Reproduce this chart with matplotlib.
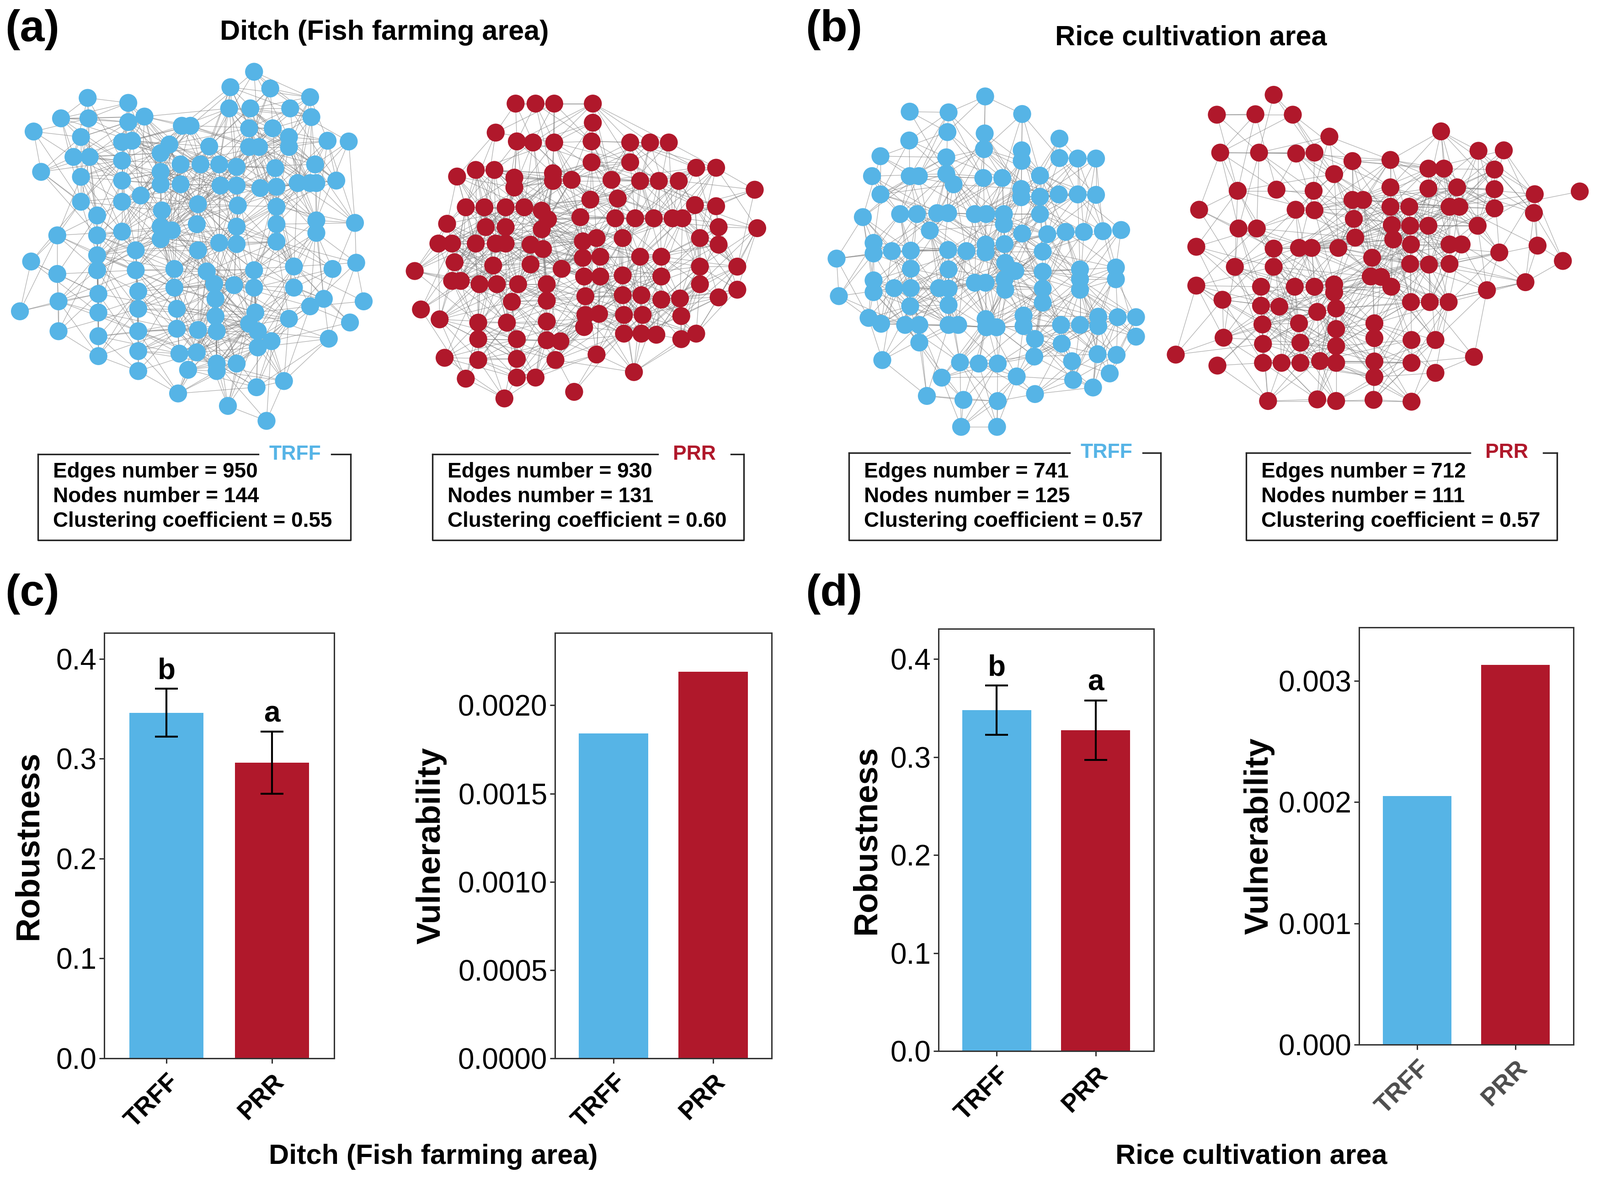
import numpy as np
import matplotlib
matplotlib.use("Agg")
import matplotlib.pyplot as plt
from matplotlib.collections import LineCollection

plt.rcParams['font.family'] = ['Liberation Sans', 'DejaVu Sans']

BLUE = '#56B4E6'
RED = '#B0182B'

# node positions (zoomed-crop units, 0..1560, y down)
trff_ditch_nodes = [
    (1020, 68), (925, 130), (1085, 135), (1245, 170), (352, 173), (515, 193), (920, 215), (1005, 215),
    (1165, 215), (245, 255), (355, 255), (515, 270), (580, 248), (1250, 250), (730, 285), (765, 285),
    (135, 308), (1000, 295), (1095, 295), (325, 330), (490, 350), (530, 345), (1160, 330), (1315, 345),
    (1400, 348), (840, 368), (680, 360), (1000, 370), (1040, 370), (1160, 370), (295, 410), (360, 410),
    (490, 425), (645, 395), (725, 440), (805, 440), (880, 440), (950, 450), (1105, 455), (1265, 440),
    (165, 470), (325, 490), (645, 470), (1245, 515), (1350, 505), (490, 505), (725, 520), (885, 525),
    (950, 525), (1045, 535), (1110, 530), (1195, 515), (1270, 515), (565, 565), (645, 520), (325, 590),
    (490, 590), (795, 600), (955, 605), (1110, 610), (650, 625), (390, 645), (1270, 665), (1425, 675),
    (645, 690), (690, 705), (790, 680), (950, 690), (1110, 680), (230, 725), (390, 725), (490, 710),
    (645, 740), (1110, 750), (1270, 715), (880, 755), (950, 760), (795, 785), (545, 785), (390, 805),
    (125, 830), (1335, 860), (1430, 835), (1180, 850), (700, 860), (830, 870), (1020, 865), (390, 865),
    (545, 865), (230, 880), (860, 920), (940, 925), (1020, 935), (1180, 935), (700, 935), (555, 950),
    (395, 960), (865, 980), (1300, 980), (1460, 990), (235, 990), (80, 1030), (710, 1020), (555, 1020),
    (395, 1035), (1025, 1035), (1245, 1010), (865, 1050), (1160, 1060), (1000, 1080), (1405, 1075),
    (710, 1100), (795, 1105), (870, 1110), (235, 1110), (555, 1110), (395, 1130), (1035, 1110),
    (1320, 1140), (1090, 1150), (1035, 1175), (720, 1200), (790, 1195), (555, 1190), (395, 1210),
    (870, 1240), (950, 1240), (755, 1265), (870, 1270), (555, 1270), (1140, 1310), (1030, 1335),
    (715, 1360), (915, 1410), (1070, 1470),
]
prr_ditch_nodes = [
    (510, 118), (590, 118), (665, 118), (820, 118), (820, 205), (430, 250), (515, 290), (580, 295),
    (665, 295), (815, 290), (970, 295), (1050, 295), (1125, 295), (815, 385), (970, 385), (1235, 410),
    (1315, 410), (275, 450), (350, 420), (425, 420), (505, 455), (505, 500), (660, 435), (660, 470),
    (735, 465), (895, 465), (1010, 470), (1085, 470), (1165, 470), (1470, 510), (810, 555), (920, 550),
    (1230, 580), (1315, 585), (310, 590), (385, 590), (470, 590), (545, 590), (615, 605), (640, 645),
    (235, 665), (390, 680), (470, 680), (615, 690), (770, 635), (910, 640), (990, 640), (1065, 640),
    (1140, 640), (1180, 640), (1325, 680), (1480, 685), (200, 755), (255, 755), (350, 755), (430, 755),
    (470, 755), (570, 760), (620, 780), (780, 745), (835, 730), (940, 730), (1250, 730), (1325, 760),
    (265, 840), (420, 855), (570, 850), (695, 870), (850, 815), (780, 820), (1010, 815), (1095, 815),
    (1250, 860), (1400, 860), (105, 880), (255, 925), (290, 925), (365, 940), (435, 940), (520, 940),
    (635, 940), (785, 905), (850, 905), (940, 900), (1095, 905), (1250, 940), (1400, 965), (495, 1020),
    (635, 1015), (790, 995), (940, 990), (1015, 990), (1095, 1010), (1170, 1005), (1325, 1000),
    (130, 1055), (205, 1100), (360, 1115), (475, 1115), (635, 1110), (790, 1080), (845, 1075),
    (945, 1080), (1020, 1080), (1175, 1085), (785, 1135), (945, 1165), (1015, 1165), (1075, 1170),
    (1175, 1190), (1235, 1165), (360, 1190), (515, 1190), (635, 1195), (690, 1200), (835, 1260),
    (225, 1275), (360, 1285), (515, 1280), (670, 1285), (985, 1340), (310, 1370), (515, 1365),
    (590, 1365), (745, 1430), (465, 1460),
]
trff_rice_nodes = [
    (750, 80), (420, 145), (590, 148), (912, 155), (585, 232), (748, 238), (418, 268), (1075, 260),
    (745, 305), (292, 335), (580, 340), (910, 310), (910, 355), (1075, 343), (1155, 345), (1235, 345),
    (255, 420), (420, 420), (460, 420), (580, 410), (612, 455), (742, 428), (825, 428), (990, 418),
    (292, 498), (908, 475), (908, 510), (990, 508), (1072, 498), (1155, 498), (1235, 500), (215, 595),
    (378, 582), (452, 582), (540, 578), (588, 578), (705, 582), (755, 582), (832, 582), (832, 625),
    (990, 582), (508, 652), (912, 665), (1022, 668), (1102, 658), (1182, 658), (1265, 655), (1345, 650),
    (262, 705), (262, 750), (342, 740), (425, 738), (588, 735), (668, 740), (752, 712), (752, 745),
    (835, 710), (1002, 742), (100, 772), (425, 815), (590, 818), (838, 790), (882, 825), (1002, 828),
    (1165, 818), (1322, 810), (262, 865), (262, 915), (352, 898), (425, 898), (548, 898), (590, 900),
    (705, 875), (752, 875), (835, 860), (838, 905), (1002, 900), (1002, 960), (1165, 860), (1165, 905),
    (1322, 860), (110, 932), (422, 975), (590, 970), (240, 1025), (295, 1050), (400, 1055), (462, 1055),
    (590, 1055), (632, 1055), (752, 1030), (755, 1065), (800, 1065), (918, 1015), (918, 1060),
    (1082, 1055), (1165, 1055), (1245, 1020), (1245, 1060), (1330, 1022), (1410, 1022), (1410, 1105),
    (462, 1130), (968, 1115), (1085, 1135), (300, 1205), (640, 1215), (722, 1220), (805, 1220),
    (965, 1190), (1242, 1180), (1325, 1183), (1130, 1210), (560, 1280), (888, 1275), (1135, 1290),
    (1295, 1262), (1222, 1322), (495, 1358), (655, 1375), (805, 1380), (968, 1350), (645, 1490),
    (802, 1490),
]
prr_rice_nodes = [
    (400, 95), (198, 182), (335, 180), (468, 182), (598, 278), (995, 255), (210, 348), (348, 348),
    (480, 352), (545, 348), (680, 385), (815, 380), (1128, 340), (1218, 338), (615, 442), (950, 418),
    (1005, 418), (1185, 422), (272, 515), (410, 510), (542, 515), (815, 500), (950, 505), (1052, 500),
    (1185, 508), (1328, 530), (1488, 518), (135, 598), (478, 598), (545, 600), (680, 555), (718, 555),
    (815, 585), (882, 585), (1025, 585), (1060, 585), (1185, 592), (1325, 612), (685, 638), (820, 665),
    (885, 668), (950, 668), (1125, 668), (275, 680), (340, 680), (690, 720), (825, 728), (888, 750),
    (1025, 750), (1068, 750), (125, 760), (400, 768), (490, 765), (535, 765), (630, 765), (1202, 785),
    (1338, 755), (750, 808), (885, 835), (952, 838), (1025, 835), (1428, 822), (262, 848), (400, 848),
    (745, 890), (782, 892), (818, 935), (125, 930), (355, 935), (475, 935), (545, 935), (615, 925),
    (615, 960), (1158, 950), (1295, 915), (218, 992), (355, 1018), (420, 1022), (555, 1045), (622, 1030),
    (888, 1002), (955, 1002), (1022, 1002), (360, 1100), (490, 1095), (622, 1120), (758, 1095),
    (758, 1160), (222, 1158), (362, 1185), (495, 1180), (622, 1195), (890, 1168), (975, 1168), (52, 1232),
    (200, 1280), (362, 1268), (428, 1268), (495, 1268), (565, 1260), (622, 1268), (758, 1262),
    (758, 1330), (890, 1268), (975, 1312), (1112, 1242), (380, 1435), (555, 1428), (622, 1435),
    (755, 1430), (890, 1438),
]

edges_number = [950, 930, 741, 712]
nodes_number = [144, 131, 125, 111]
clustering = ['0.55', '0.60', '0.57', '0.57']

groups = ['TRFF', 'PRR']
robust_ditch = [0.346, 0.296]
robust_ditch_err = [0.024, 0.031]
robust_rice = [0.348, 0.3275]
robust_rice_err = [0.025, 0.0305]
letters = ['b', 'a']
vuln_ditch = [0.00184, 0.00219]
vuln_rice = [0.00205, 0.00313]

W, H = 3500, 2591
fig = plt.figure(figsize=(W / 100, H / 100), dpi=100)


def rect(x0, y0, x1, y1):
    return [x0 / W, 1 - y1 / H, (x1 - x0) / W, (y1 - y0) / H]


def fpos(x, y):
    return x / W, 1 - y / H


# overlay in pixel coordinates for boxes and loose text
ov = fig.add_axes([0, 0, 1, 1])
ov.set_xlim(0, W)
ov.set_ylim(H, 0)
ov.axis('off')


def draw_network(crop, nodes, n_edges, color):
    ax = fig.add_axes(rect(*crop))
    ax.set_xlim(0, 1560)
    ax.set_ylim(1560, 0)
    ax.axis('off')
    p = np.array(nodes, dtype=float)
    i, j = np.triu_indices(len(p), 1)
    d = np.hypot(p[i, 0] - p[j, 0], p[i, 1] - p[j, 1])
    order = np.argsort(d)[:2 * n_edges:2]
    segs = np.stack([p[i[order]], p[j[order]]], axis=1)
    ax.add_collection(LineCollection(segs, colors='#808080', linewidths=0.9, alpha=0.65, zorder=1))
    ax.scatter(p[:, 0], p[:, 1], s=800, color=color, edgecolors='none', zorder=2)


draw_network((0, 120, 850, 970), trff_ditch_nodes, edges_number[0], BLUE)
draw_network((850, 170, 1700, 920), prr_ditch_nodes, edges_number[1], RED)
draw_network((1780, 170, 2560, 970), trff_rice_nodes, edges_number[2], BLUE)
draw_network((2540, 160, 3500, 940), prr_rice_nodes, edges_number[3], RED)


def info_box(x0, x1, y0, y1, label_x, label, color, k):
    gap = 80
    lw = 2.4
    ov.plot([x0, label_x - gap], [y0, y0], color='#222222', lw=lw)
    ov.plot([label_x + gap, x1], [y0, y0], color='#222222', lw=lw)
    ov.plot([x0, x0, x1, x1], [y0, y1, y1, y0], color='#222222', lw=lw)
    ov.text(label_x, y0, label, color=color, fontsize=32, fontweight='bold', ha='center', va='center')
    lines = ['Edges number = %d' % edges_number[k],
             'Nodes number = %d' % nodes_number[k],
             'Clustering coefficient = %s' % clustering[k]]
    for n, t in enumerate(lines):
        ov.text(x0 + 33, 1033 + 54 * n, t, fontsize=33, fontweight='bold', ha='left', va='center')


info_box(83, 767, 994, 1182, 645, 'TRFF', BLUE, 0)
info_box(946, 1627, 994, 1182, 1519, 'PRR', RED, 1)
info_box(1857, 2539, 991, 1182, 2420, 'TRFF', BLUE, 2)
info_box(2726, 3406, 991, 1182, 3296, 'PRR', RED, 3)

# panel letters and titles
for lab, x, y in [('(a)', 11, 65), ('(b)', 1762, 65), ('(c)', 11, 1300), ('(d)', 1762, 1300)]:
    fig.text(*fpos(x, y), lab, fontsize=70, fontweight='bold', ha='left', va='center')
fig.text(*fpos(841, 72), 'Ditch (Fish farming area)', fontsize=44, fontweight='bold', ha='center', va='center')
fig.text(*fpos(2605, 83), 'Rice cultivation area', fontsize=44, fontweight='bold', ha='center', va='center')
fig.text(*fpos(948, 2531), 'Ditch (Fish farming area)', fontsize=44, fontweight='bold', ha='center', va='center')
fig.text(*fpos(2737, 2531), 'Rice cultivation area', fontsize=44, fontweight='bold', ha='center', va='center')


def style_axes(ax, xlabel_color='black'):
    for s in ax.spines.values():
        s.set_color('#333333')
        s.set_linewidth(2.2)
    ax.tick_params(axis='both', length=8, width=2.2, color='#333333')
    ax.tick_params(axis='y', labelsize=46, pad=4)
    ax.tick_params(axis='x', labelsize=40, pad=10)
    ax.set_xticks([1, 2])
    ax.set_xticklabels(groups, rotation=45, ha='right', va='top', rotation_mode='anchor',
                       fontweight='bold', color=xlabel_color)
    ax.set_xlim(0.41, 2.59)


def robust_panel(box, means, errs, ylim, lx):
    ax = fig.add_axes(rect(*box))
    x = np.array([1, 2])
    ax.bar(x, means, width=0.7, color=[BLUE, RED], zorder=1)
    ax.errorbar(x, means, yerr=errs, fmt='none', ecolor='black', elinewidth=3, capsize=18, capthick=3, zorder=2)
    for xi, m, e, t in zip(x, means, errs, letters):
        ax.text(xi, m + e + 0.004, t, fontsize=46, fontweight='bold', ha='center', va='bottom')
    ax.set_ylim(0, ylim)
    ax.set_yticks([0, 0.1, 0.2, 0.3, 0.4])
    ax.set_yticklabels(['0.0', '0.1', '0.2', '0.3', '0.4'])
    style_axes(ax)
    ax.set_ylabel('Robustness', fontsize=52, fontweight='bold')
    ax.yaxis.set_label_coords(lx, 0.5)
    return ax


def vuln_panel(box, vals, ylim, ticks, fmt, lx, xcol):
    ax = fig.add_axes(rect(*box))
    x = np.array([1, 2])
    ax.bar(x, vals, width=0.7, color=[BLUE, RED])
    ax.set_ylim(0, ylim)
    ax.set_yticks(ticks)
    ax.set_yticklabels([fmt % t for t in ticks])
    style_axes(ax, xcol)
    ax.set_ylabel('Vulnerability', fontsize=52, fontweight='bold')
    ax.yaxis.set_label_coords(lx, 0.5)
    return ax


robust_panel((228, 1385, 731, 2316), robust_ditch, robust_ditch_err, 0.426, -0.262)
vuln_panel((1214, 1385, 1688, 2316), vuln_ditch, 0.00241, [0, 0.0005, 0.001, 0.0015, 0.002], '%.4f', -0.50, 'black')
robust_panel((2053, 1376, 2524, 2300), robust_rice, robust_rice_err, 0.431, -0.261)
vuln_panel((2973, 1373, 3442, 2286), vuln_rice, 0.00344, [0, 0.001, 0.002, 0.003], '%.3f', -0.394, '#4D4D4D')

fig.savefig('out.png', dpi=100, facecolor='white')
